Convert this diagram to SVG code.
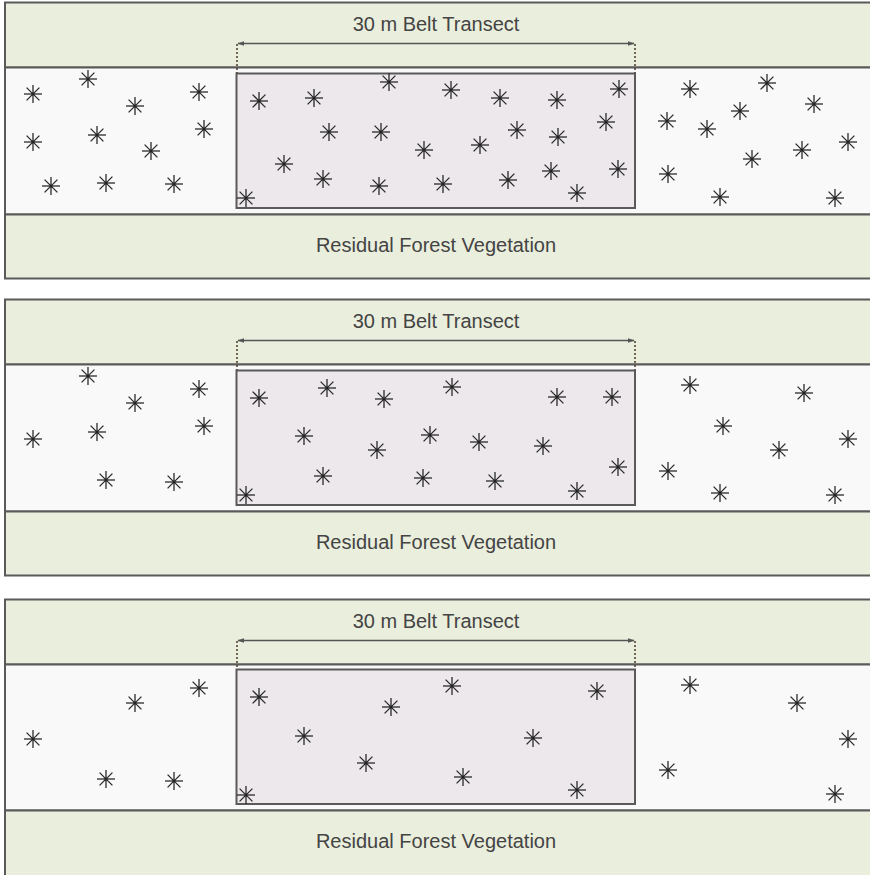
<svg xmlns="http://www.w3.org/2000/svg" xmlns:xlink="http://www.w3.org/1999/xlink" width="870" height="875" viewBox="0 0 870 875">
<style>
.band{fill:#eaeedc;stroke:#5a5a5a;stroke-width:2}
.mid{fill:#f9f9f9;stroke:#5a5a5a;stroke-width:2}
.tr{fill:#ece8ec;stroke:#5a5a5a;stroke-width:2}
.dim{stroke:#555;stroke-width:1.5;fill:none}
.dot{stroke:#4a3c28;stroke-width:1.5;stroke-dasharray:2 2;fill:none}
.lbl{font-family:"Liberation Sans",Arial,sans-serif;font-size:20px;fill:#444;text-anchor:middle}
.s{stroke:#2a2a2a;stroke-width:1.3}
</style>
<defs>
<marker id="ah" viewBox="0 0 10 10" refX="9" refY="5" markerWidth="7" markerHeight="7" orient="auto-start-reverse" markerUnits="userSpaceOnUse">
<path d="M0,1.5 L10,5 L0,8.5 Z" fill="#555"/>
</marker>
<g id="st" class="s">
<line x1="-9" y1="0" x2="9" y2="0"/>
<line x1="0" y1="-9" x2="0" y2="9"/>
<line x1="-6.4" y1="-6.4" x2="6.4" y2="6.4"/>
<line x1="-6.4" y1="6.4" x2="6.4" y2="-6.4"/>
<circle r="1.5" fill="#222" stroke="none"/>
</g>
</defs>

<g id="panel1">
<rect class="band" x="5" y="2.5" width="870" height="65"/>
<rect class="mid" x="5" y="67.5" width="870" height="147"/>
<rect class="band" x="5" y="214.5" width="870" height="64"/>
<rect class="tr" x="236.5" y="73.5" width="398.5" height="134.5"/>
<text class="lbl" x="436" y="31">30 m Belt Transect</text>
<text class="lbl" x="436" y="252">Residual Forest Vegetation</text>
</g>
<g id="panel2">
<rect class="band" x="5" y="299.5" width="870" height="65"/>
<rect class="mid" x="5" y="364.5" width="870" height="147"/>
<rect class="band" x="5" y="511.5" width="870" height="64"/>
<rect class="tr" x="236.5" y="370.5" width="398.5" height="134.5"/>
<text class="lbl" x="436" y="328">30 m Belt Transect</text>
<text class="lbl" x="436" y="549">Residual Forest Vegetation</text>
</g>
<g id="panel3">
<rect class="band" x="5" y="599.5" width="870" height="65"/>
<rect class="mid" x="5" y="664.5" width="870" height="146"/>
<rect class="band" x="5" y="810.5" width="870" height="66"/>
<rect class="tr" x="236.5" y="669.5" width="398.5" height="134.5"/>
<text class="lbl" x="436" y="628">30 m Belt Transect</text>
<text class="lbl" x="436" y="848">Residual Forest Vegetation</text>
</g>

<g id="connectors">
<line class="dim" x1="238" y1="43.5" x2="634" y2="43.5" marker-start="url(#ah)" marker-end="url(#ah)"/>
<line class="dot" x1="237" y1="44" x2="237" y2="73"/>
<line class="dot" x1="635" y1="44" x2="635" y2="73"/>
<line class="dim" x1="238" y1="340.5" x2="634" y2="340.5" marker-start="url(#ah)" marker-end="url(#ah)"/>
<line class="dot" x1="237" y1="341" x2="237" y2="370"/>
<line class="dot" x1="635" y1="341" x2="635" y2="370"/>
<line class="dim" x1="238" y1="640.5" x2="634" y2="640.5" marker-start="url(#ah)" marker-end="url(#ah)"/>
<line class="dot" x1="237" y1="641" x2="237" y2="669"/>
<line class="dot" x1="635" y1="641" x2="635" y2="669"/>
</g>

<g id="plants1">
<use href="#st" x="33" y="94"/><use href="#st" x="88" y="79"/><use href="#st" x="135" y="106"/><use href="#st" x="199" y="92"/>
<use href="#st" x="33" y="142"/><use href="#st" x="97" y="135"/><use href="#st" x="151" y="151"/><use href="#st" x="204" y="129"/>
<use href="#st" x="51" y="186"/><use href="#st" x="106" y="183"/><use href="#st" x="174" y="184"/>
<use href="#st" x="259" y="101"/><use href="#st" x="314" y="98"/><use href="#st" x="389" y="82"/><use href="#st" x="451" y="90"/>
<use href="#st" x="500" y="98"/><use href="#st" x="557" y="100"/><use href="#st" x="619" y="89"/>
<use href="#st" x="329" y="132"/><use href="#st" x="381" y="132"/><use href="#st" x="424" y="150"/><use href="#st" x="480" y="145"/>
<use href="#st" x="517" y="130"/><use href="#st" x="558" y="137"/><use href="#st" x="606" y="122"/>
<use href="#st" x="284" y="164"/><use href="#st" x="323" y="179"/><use href="#st" x="379" y="186"/><use href="#st" x="443" y="184"/>
<use href="#st" x="508" y="180"/><use href="#st" x="551" y="171"/><use href="#st" x="618" y="169"/><use href="#st" x="577" y="193"/>
<use href="#st" x="246" y="198"/>
<use href="#st" x="690" y="89"/><use href="#st" x="767" y="83"/><use href="#st" x="814" y="104"/><use href="#st" x="740" y="111"/>
<use href="#st" x="667" y="121"/><use href="#st" x="707" y="129"/><use href="#st" x="848" y="142"/><use href="#st" x="802" y="150"/>
<use href="#st" x="752" y="159"/><use href="#st" x="668" y="174"/><use href="#st" x="720" y="197"/><use href="#st" x="835" y="198"/>
</g>
<g id="plants2">
<use href="#st" x="88" y="376"/><use href="#st" x="135" y="403"/><use href="#st" x="199" y="389"/><use href="#st" x="33" y="439"/>
<use href="#st" x="97" y="432"/><use href="#st" x="204" y="426"/><use href="#st" x="106" y="480"/><use href="#st" x="174" y="482"/>
<use href="#st" x="259" y="398"/><use href="#st" x="327" y="388"/><use href="#st" x="384" y="399"/><use href="#st" x="452" y="387"/>
<use href="#st" x="557" y="397"/><use href="#st" x="612" y="397"/><use href="#st" x="304" y="436"/><use href="#st" x="377" y="450"/>
<use href="#st" x="430" y="435"/><use href="#st" x="479" y="442"/><use href="#st" x="543" y="446"/><use href="#st" x="618" y="467"/>
<use href="#st" x="323" y="476"/><use href="#st" x="423" y="478"/><use href="#st" x="495" y="481"/><use href="#st" x="577" y="491"/>
<use href="#st" x="246" y="495"/>
<use href="#st" x="690" y="385"/><use href="#st" x="804" y="393"/><use href="#st" x="723" y="426"/><use href="#st" x="848" y="439"/>
<use href="#st" x="779" y="450"/><use href="#st" x="668" y="471"/><use href="#st" x="720" y="493"/><use href="#st" x="835" y="495"/>
</g>
<g id="plants3">
<use href="#st" x="135" y="703"/><use href="#st" x="199" y="688"/><use href="#st" x="33" y="739"/><use href="#st" x="106" y="779"/>
<use href="#st" x="174" y="781"/>
<use href="#st" x="259" y="697"/><use href="#st" x="391" y="707"/><use href="#st" x="452" y="686"/><use href="#st" x="597" y="691"/>
<use href="#st" x="304" y="736"/><use href="#st" x="533" y="738"/><use href="#st" x="366" y="763"/><use href="#st" x="463" y="777"/>
<use href="#st" x="577" y="790"/><use href="#st" x="246" y="795"/>
<use href="#st" x="690" y="685"/><use href="#st" x="797" y="703"/><use href="#st" x="848" y="739"/><use href="#st" x="668" y="770"/>
<use href="#st" x="835" y="794"/>
</g>
</svg>
